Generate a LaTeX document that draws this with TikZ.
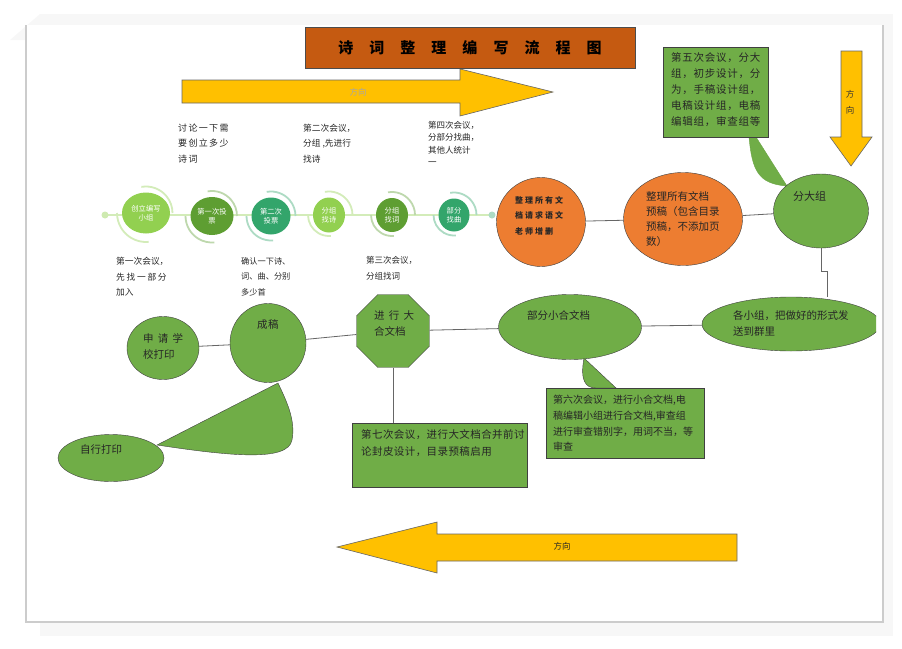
\documentclass[tikz,border=0pt]{standalone}
\usepackage{fontspec}
\setmainfont{Noto Sans CJK SC}
\usetikzlibrary{shapes.geometric}

\definecolor{titlebrown}{HTML}{C55A11}
\definecolor{arrowyellow}{HTML}{FFC000}
\definecolor{leafgreen}{HTML}{70AD47}
\definecolor{flamefill}{HTML}{ED7D31}
\definecolor{limefill}{HTML}{92D050}
\definecolor{grassfill}{HTML}{5E9E32}
\definecolor{seafill}{HTML}{33A56B}

\begin{document}
\begin{tikzpicture}[x=1pt,y=-1pt]

\tikzset{blob/.style = {shape=ellipse,draw=black!75,fill=leafgreen,inner sep=0pt}}
\tikzset{leafbox/.style = {draw=black!75,fill=leafgreen,inner sep=0pt}}
\tikzset{link/.style = {draw=black!60,line width=0.8pt}}
\tikzset{say/.style = {anchor=west,inner sep=0pt,align=left,text=black!85}}
\tikzset{yellowarrow/.style = {draw=black!60,fill=arrowyellow,line width=0.6pt}}

\useasboundingbox (0,0) rectangle (902,648);
%page
\fill[gray!6] (40,14) rectangle (893,636);
\fill[gray!6] (10,40) -- (40,14) -- (40,40) -- cycle;
\fill[white] (26,25) rectangle (883,622);
\draw[gray!40,line width=2pt] (26,25) -- (26,622) -- (883,622) -- (883,25);

%timeline
\coordinate (tl0) at (105,215);
\coordinate (tl1) at (492,215);
\draw[limefill!40,line width=1.8pt] (tl0) -- (tl1);
\fill[limefill!45] (tl0) circle[radius=3.5pt];
\fill[seafill!40] (tl1) circle[radius=3.5pt];
\foreach \x/\y/\w/\h/\c/\t/\n in {146/213/48/41/limefill/{创立编写\\小组}/c1,
  212/216/43/38/grassfill/{第一次投\\票}/c2, 271/216/39/37/seafill/{第二次\\投票}/c3,
  329/215/32/35/limefill/{分组\\找诗}/c4, 392/215/32/34/grassfill/{分组\\找词}/c5,
  454/215/31/33/seafill/{部分\\找曲}/c6}
{
  \begin{scope}[shift={(\x,\y)}]
    \draw[\c!40,line width=1.8pt] (100:\h/2+6pt) arc[start angle=100,end angle=0,radius=\h/2+6pt];
    \draw[\c!40,line width=1.8pt] (180:\w/2+5pt) arc[start angle=180,end angle=275,radius=\w/2+5pt];
  \end{scope}
  \node[shape=ellipse,fill=\c,inner sep=0pt,minimum width=\w pt,minimum height=\h pt,
    text=white,align=center,font=\fontsize{7.3}{9.5}\selectfont] (\n) at (\x,\y) {\t};
}

%notes on the timeline
\node[say,font=\fontsize{9}{15.5}\selectfont\addfontfeature{LetterSpace=15}] (n1) at (178,143.5) {讨论一下需\\要创立多少\\诗词};
\node[say,font=\fontsize{8.7}{15.5}\selectfont] (n2) at (303,143.5) {第二次会议，\\分组 ,先进行\\找诗};
\node[say,font=\fontsize{8.5}{12.5}\selectfont] (n4) at (428,143.5) {第四次会议，\\分部分找曲，\\其他人统计\\一};
\node[say,font=\fontsize{8.7}{15.5}\selectfont] (n0) at (116,277) {第一次会议，\\{\addfontfeature{LetterSpace=20}先找一部分}\\加入};
\node[say,font=\fontsize{8.2}{15.5}\selectfont] (n1b) at (241,276.5) {确认一下诗、\\词、曲、分别\\多少首};
\node[say,font=\fontsize{8.5}{15.5}\selectfont] (n3) at (366,268.5) {第三次会议，\\分组找词};

%arrows
\draw[yellowarrow] (182,80) -- (460,80) -- (460,69) -- (553,92) -- (460,116) -- (460,103) -- (182,103) -- cycle;
\node[font=\fontsize{8.5}{10}\selectfont,text=black!35] (dirtop) at (358,92) {方向};
\draw[yellowarrow] (841,51) -- (862,51) -- (862,137) -- (872,137) -- (851,166) -- (830,137) -- (841,137) -- cycle;
\node[font=\fontsize{8.5}{16}\selectfont,align=center,text=black!80] (dirright) at (850,102) {方\\向};
\draw[yellowarrow] (737,534) -- (437,534) -- (437,522) -- (337,547) -- (437,573) -- (437,561) -- (737,561) -- cycle;
\node[font=\fontsize{8.5}{10}\selectfont,text=black!85] (dirbottom) at (562,546) {方向};

%title
\node[draw=black!70,fill=titlebrown,minimum width=330pt,minimum height=41pt,inner sep=0pt,
  font=\bfseries\fontsize{15}{18}\selectfont\addfontfeature{LetterSpace=107}] (title) at (470,47.5) {诗词整理编写流程图};

%callout tails
\draw[leafgreen!95!black,fill=leafgreen] (749,137) .. controls (752,170) and (758,184) .. (787,186) -- (756,137) -- cycle;
\draw[black!75,fill=leafgreen] (584,358) .. controls (580,380) and (585,388) .. (596,388) -- (616,388) -- cycle;
\draw[black!75,fill=leafgreen] (278,383) -- (157,445) .. controls (230,456) and (288,462) .. (292,440) .. controls (296,420) and (286,400) .. cycle;

%shapes
\node[blob,fill=flamefill,minimum width=89pt,minimum height=89pt] (o1) at (541,222) {};
\node[blob,fill=flamefill,minimum width=119pt,minimum height=93pt] (o2) at (683,219) {};
\node[blob,minimum width=95pt,minimum height=74pt] (big) at (821,211) {};
\node[leafbox,minimum width=105pt,minimum height=90pt] (meet5) at (715.5,92) {};
\node[blob,minimum width=143pt,minimum height=65pt] (part) at (570,327) {};
\begin{scope}
  \clip (0,0) rectangle (876,648);
  \node[blob,minimum width=178pt,minimum height=54pt] (gc) at (791,324) {};
\end{scope}
\node[leafbox,minimum width=158pt,minimum height=70pt] (meet6) at (625,423) {};
\node[shape=regular polygon,regular polygon sides=8,draw=black!75,fill=leafgreen,
  minimum size=79pt,inner sep=0pt] (oct) at (393,331) {};
\node[leafbox,minimum width=175pt,minimum height=64pt] (meet7) at (439.5,455) {};
\node[blob,minimum width=76pt,minimum height=79pt] (cg) at (268,343) {};
\node[blob,minimum width=72pt,minimum height=63pt] (ask) at (163,348) {};
\node[blob,minimum width=106pt,minimum height=47pt] (self) at (111,458) {};

%texts in shapes
\node[say,font=\bfseries\fontsize{8}{15.5}\selectfont\addfontfeature{LetterSpace=25}] (o1t) at (515,215.5) {整理所有文\\档请求语文\\老师增删};
\node[say,font=\fontsize{10.5}{15}\selectfont] (o2t) at (646,219.5) {整理所有文档\\预稿（包含目录\\预稿，不添加页\\数）};
\node[say,font=\fontsize{11}{13}\selectfont] (bigt) at (793,196) {分大组};
\node[say,font=\fontsize{10.5}{16}\selectfont\addfontfeature{LetterSpace=7}] (meet5t) at (671,90) {第五次会议，分大\\组，初步设计，分\\为，手稿设计组，\\电稿设计组，电稿\\编辑组，审查组等};
\node[say,font=\fontsize{10.5}{13}\selectfont] (partt) at (527,315) {部分小合文档};
\node[say,font=\fontsize{10.5}{16}\selectfont] (gct) at (733,323) {各小组，把做好的形式发\\送到群里};
\node[say,font=\fontsize{10}{15.7}\selectfont] (meet6t) at (553,423.5) {第六次会议，进行小合文档,电\\稿编辑小组进行合文档,审查组\\进行审查错别字，用词不当，等\\审查};
\node[say,font=\fontsize{10.5}{16}\selectfont] (octt) at (374,323) {{\addfontfeature{LetterSpace=40}进行大}\\合文档};
\node[say,font=\fontsize{10.5}{17}\selectfont\addfontfeature{LetterSpace=4}] (meet7t) at (361,443.5) {第七次会议，进行大文档合并前讨\\论封皮设计，目录预稿启用};
\node[say,font=\fontsize{10.5}{13}\selectfont\addfontfeature{LetterSpace=5}] (cgt) at (257,325) {成稿};
\node[say,font=\fontsize{10.5}{16}\selectfont] (askt) at (143,346) {{\addfontfeature{LetterSpace=40}申请学}\\校打印};
\node[say,font=\fontsize{10.5}{13}\selectfont] (selft) at (80,450) {自行打印};

%edges
\draw[link] (o1) -- (o2);
\draw[link] (o2) -- (big);
\coordinate (kink) at (827,271);
\draw[link] (big.south) |- (kink) -- (kink |- gc.north);
\draw[link] (part) -- (gc);
\draw[link] (oct) -- (part);
\draw[link] (oct.south) -- (oct.south |- meet7.north);
\draw[link] (cg) -- (oct);
\draw[link] (ask) -- (cg);

\end{tikzpicture}
\end{document}
